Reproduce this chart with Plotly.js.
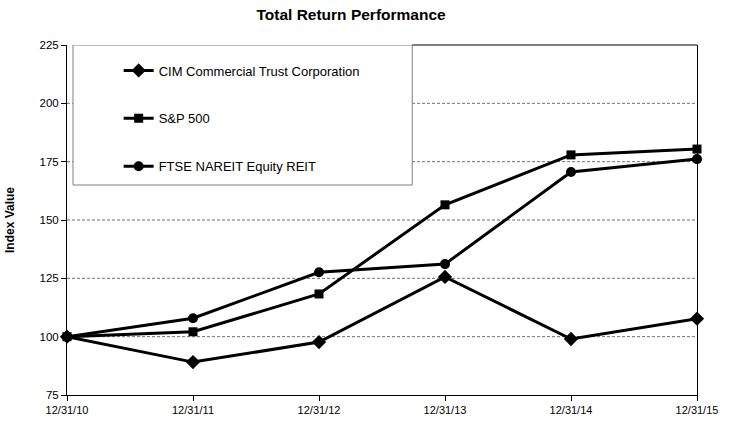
<!DOCTYPE html>
<html>
<head>
<meta charset="utf-8">
<script src="https://cdn.plot.ly/plotly-3.0.1.min.js"></script>
<style>html,body{margin:0;padding:0;background:#fff;}#chart{width:736px;height:426px;}</style>
</head>
<body>
<div id="chart"></div>
<script>
const dates = ["12/31/10", "12/31/11", "12/31/12", "12/31/13", "12/31/14", "12/31/15"];
const cimValues = [100, 89.1, 97.7, 125.6, 99.0, 107.7];
const spValues = [100, 102.1, 118.3, 156.5, 177.9, 180.4];
const reitValues = [100, 107.9, 127.6, 131.1, 170.6, 176.1];
const yTicks = [75, 100, 125, 150, 175, 200, 225];
const gridValues = [100, 125, 150, 175, 200];

const base = {type: 'scatter', mode: 'lines+markers', x: dates, cliponaxis: false};
const traces = [
  Object.assign({}, base, {name: 'CIM Commercial Trust Corporation', y: cimValues, legendgroup: 'a',
    line: {color: '#000', width: 3}, marker: {symbol: 'diamond', size: 11, color: '#000'}}),
  Object.assign({}, base, {name: 'S&P 500', y: spValues, legendgroup: 'b',
    line: {color: '#000', width: 3}, marker: {symbol: 'square', size: 9, color: '#000'}}),
  Object.assign({}, base, {name: 'FTSE NAREIT Equity REIT', y: reitValues, legendgroup: 'c',
    line: {color: '#000', width: 3}, marker: {symbol: 'circle', size: 10, color: '#000'}})
];

const shapes = gridValues.map(v => ({type: 'line', xref: 'paper', yref: 'y', x0: 0, x1: 1, y0: v, y1: v,
  line: {color: '#707070', width: 1, dash: '3px,2px'}, layer: 'below'}));
shapes.push({type: 'rect', xref: 'paper', yref: 'y', x0: 0.0095, x1: 0.548, y0: 165, y1: 225,
  fillcolor: '#fff', line: {color: '#808080', width: 1}, layer: 'below'});
shapes.push({type: 'line', xref: 'paper', yref: 'paper', x0: 0.548, x1: 1, y0: 1, y1: 1,
  line: {color: '#000', width: 1}, layer: 'above'});

const layout = {
  width: 736, height: 426,
  margin: {l: 67, r: 39, t: 45, b: 31},
  paper_bgcolor: '#fff', plot_bgcolor: '#fff',
  font: {family: 'Liberation Sans, Arial, sans-serif', size: 11, color: '#000'},
  title: {text: '<b>Total Return Performance</b>', font: {size: 15.5, color: '#000'}, x: 0.477, xanchor: 'center', y: 0.965, yanchor: 'middle'},
  showlegend: true,
  legend: {x: 0.082, y: 0.97, xanchor: 'left', yanchor: 'top', bgcolor: 'rgba(0,0,0,0)', borderwidth: 0,
    font: {size: 13, color: '#000'}, tracegroupgap: 28, itemwidth: 30, traceorder: 'grouped'},
  xaxis: {type: 'category', range: [0, 5], showgrid: false, zeroline: false,
    showline: true, linecolor: '#000', linewidth: 1,
    ticks: 'outside', ticklen: 5, tickcolor: '#000', tickfont: {size: 11}},
  yaxis: {range: [75, 225], tickvals: yTicks, showgrid: false,
    zeroline: false, showline: true, mirror: true, linecolor: '#000', linewidth: 1,
    ticks: 'outside', ticklen: 5, tickcolor: '#000', tickfont: {size: 11.5},
    title: {text: '<b>Index Value</b>', font: {size: 12}, standoff: 22}},
  shapes: shapes
};

Plotly.newPlot('chart', traces, layout, {displayModeBar: false, staticPlot: true});
</script>
</body>
</html>
